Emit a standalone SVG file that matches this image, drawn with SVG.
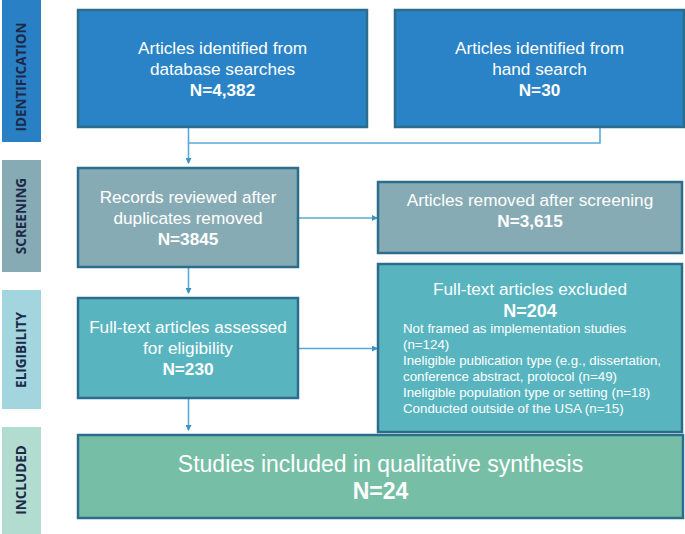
<svg xmlns="http://www.w3.org/2000/svg" width="685" height="534" viewBox="0 0 685 534">
<style>
.box{stroke:#2c6d8c;stroke-width:2.5}
.t{font-family:"Liberation Sans",Arial,sans-serif;fill:#ffffff;text-anchor:middle;font-size:17.2px}
.b{font-weight:bold}
.s{font-family:"Liberation Sans",Arial,sans-serif;fill:#ffffff;font-size:13.3px}
.side{font-family:"Open Sans","DejaVu Sans",sans-serif;font-weight:bold;font-size:13.5px;fill:#1b2a48;text-anchor:middle}
.c{fill:none;stroke:#5aa9d6;stroke-width:1.6}
</style>
<defs>
<marker id="ah" markerWidth="6" markerHeight="6" refX="5" refY="3" orient="auto" markerUnits="userSpaceOnUse">
<path d="M0,0 L6,3 L0,6 Z" fill="#3d93c6"/>
</marker>
</defs>
<rect width="685" height="534" fill="#ffffff"/>
<g id="side-identification">
<rect x="2" y="0" width="39" height="142" fill="#2a80c4"/>
<text class="side" transform="translate(26,77) rotate(-90)">IDENTIFICATION</text>
</g>
<g id="side-screening">
<rect x="2" y="160" width="39" height="112" fill="#87abb4"/>
<text class="side" transform="translate(26,216) rotate(-90)">SCREENING</text>
</g>
<g id="side-eligibility">
<rect x="2" y="290" width="39" height="119" fill="#a2d5dd"/>
<text class="side" transform="translate(26,350) rotate(-90)">ELIGIBILITY</text>
</g>
<g id="side-included">
<rect x="2" y="427" width="39" height="107" fill="#b2dccf"/>
<text class="side" transform="translate(26,480) rotate(-90)">INCLUDED</text>
</g>
<g id="connectors">
<path class="c" d="M188.5,127 V143 H600 V127"/>
<path class="c" d="M188.5,143 V163" marker-end="url(#ah)"/>
<path class="c" d="M188.5,267 V293" marker-end="url(#ah)"/>
<path class="c" d="M188.5,398 V430" marker-end="url(#ah)"/>
<path class="c" d="M298,218 H377" marker-end="url(#ah)"/>
<path class="c" d="M298,348.5 H377" marker-end="url(#ah)"/>
</g>
<g id="db-search">
<rect class="box" x="78" y="10" width="289" height="117" fill="#2a83c6"/>
<text class="t" x="222.5" y="54">Articles identified from</text>
<text class="t" x="222.5" y="75">database searches</text>
<text class="t b" x="222.5" y="96">N=4,382</text>
</g>
<g id="hand-search">
<rect class="box" x="395" y="10" width="289" height="117" fill="#2a83c6"/>
<text class="t" x="539.5" y="54">Articles identified from</text>
<text class="t" x="539.5" y="75">hand search</text>
<text class="t b" x="539.5" y="96">N=30</text>
</g>
<g id="screened">
<rect class="box" x="78" y="168" width="220" height="99" fill="#87abb4"/>
<text class="t" x="188" y="203">Records reviewed after</text>
<text class="t" x="188" y="224">duplicates removed</text>
<text class="t b" x="188" y="245">N=3845</text>
</g>
<g id="removed">
<rect class="box" x="378" y="182" width="304" height="71" fill="#87abb4"/>
<text class="t" x="530" y="206">Articles removed after screening</text>
<text class="t b" x="530" y="227">N=3,615</text>
</g>
<g id="assessed">
<rect class="box" x="78" y="298" width="220" height="100" fill="#58b5c0"/>
<text class="t" x="188" y="333">Full-text articles assessed</text>
<text class="t" x="188" y="354">for eligibility</text>
<text class="t b" x="188" y="375">N=230</text>
</g>
<g id="excluded">
<rect class="box" x="378" y="264" width="304" height="168" fill="#58b5c0"/>
<text class="t" x="530" y="295">Full-text articles excluded</text>
<text class="t b" x="530" y="317" style="font-size:18px">N=204</text>
<text class="s" x="403" y="333">Not framed as implementation studies</text>
<text class="s" x="403" y="349">(n=124)</text>
<text class="s" x="403" y="365">Ineligible publication type (e.g., dissertation,</text>
<text class="s" x="403" y="381">conference abstract, protocol (n=49)</text>
<text class="s" x="403" y="397">Ineligible population type or setting (n=18)</text>
<text class="s" x="403" y="413">Conducted outside of the USA (n=15)</text>
</g>
<g id="included">
<rect class="box" x="78" y="435" width="605" height="83" fill="#77bea6"/>
<text class="t" x="380.5" y="472" style="font-size:23px">Studies included in qualitative synthesis</text>
<text class="t b" x="380.5" y="499" style="font-size:23px">N=24</text>
</g>
</svg>
